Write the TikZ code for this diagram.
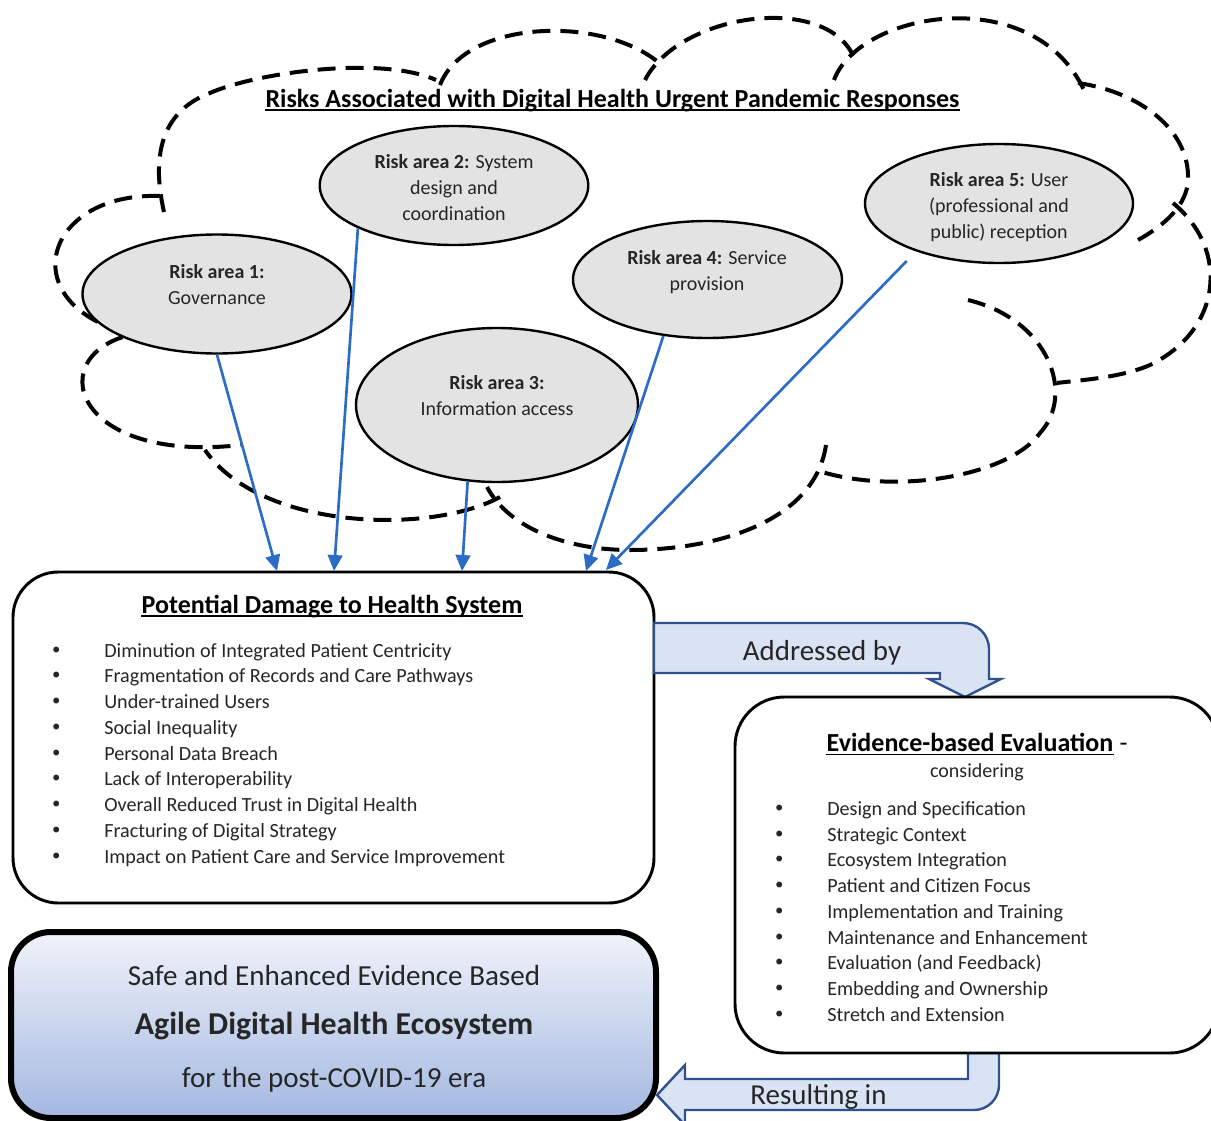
\documentclass[tikz,border=0pt]{standalone}
\usepackage{fontspec}
\setmainfont{Carlito}
\newfontfamily\bulletfont{DejaVu Sans}
\usepackage{tikz}
\usetikzlibrary{arrows.meta,shapes.geometric}

\definecolor{riskgray}{RGB}{227,227,227}
\definecolor{arrowblue}{RGB}{45,108,196}
\definecolor{blockfill}{RGB}{218,227,243}
\definecolor{blockline}{RGB}{47,82,143}
\definecolor{ecotop}{RGB}{240,243,250}
\definecolor{ecobottom}{RGB}{164,184,225}
\definecolor{bodytext}{RGB}{38,38,38}

\newcommand{\dotitem}{\makebox[40.5pt][l]{\bulletfont\symbol{"2022}}}

\begin{document}
\begin{tikzpicture}[x=0.75pt,y=0.75pt,yscale=-1,xscale=1,
  cloudline/.style={line width=3pt, dash pattern=on 13.5pt off 7.5pt},
  riskarea/.style={ellipse, draw, line width=1.8pt, fill=riskgray, inner sep=0pt},
  risktext/.style={align=center, inner sep=0pt, text=bodytext, font=\fontsize{15}{19.5}\selectfont},
  riskarrow/.style={draw=arrowblue, line width=2pt, -{Triangle[length=12pt,width=11pt]}},
  roundbox/.style={draw, line width=2.2pt, fill=white, inner sep=0pt},
  boxtitle/.style={inner sep=0pt, anchor=base, font=\fontsize{19.5}{23}\selectfont\bfseries},
  titlerule/.style={line width=1.1pt},
  bulletlist/.style={align=left, inner sep=0pt, anchor=west, text=bodytext, font=\fontsize{15.1}{19.3}\selectfont},
  blockarrow/.style={draw=blockline, fill=blockfill, line width=1.8pt, line join=miter},
  blocktext/.style={inner sep=0pt, anchor=base, text=bodytext, font=\fontsize{21.7}{25}\selectfont},
  ecotext/.style={inner sep=0pt, anchor=base, text=bodytext, font=\fontsize{21.8}{26}\selectfont}]
\useasboundingbox (0,0) rectangle (1211,1121);
\clip (0,0) rectangle (1211,1121);

%Curve Lines (cloud, top left)
\draw[cloudline] (164,212) .. controls (150,150) and (165,110) .. (210,93) .. controls (255,73) and (380,55) .. (436,80) ;
%Curve Lines
\draw[cloudline] (440,85) .. controls (465,20) and (600,15) .. (658,62) ;
%Curve Lines
\draw[cloudline] (645,80) .. controls (680,12) and (830,-8) .. (855,60) ;
%Curve Lines
\draw[cloudline] (834,80) .. controls (860,10) and (1040,-20) .. (1087,97) ;
%Curve Lines
\draw[cloudline] (1078,83) .. controls (1140,92) and (1190,130) .. (1188,180) .. controls (1187,205) and (1165,225) .. (1138,240) ;
%Curve Lines
\draw[cloudline] (1173,203) .. controls (1230,250) and (1222,330) .. (1150,365) .. controls (1120,378) and (1080,380) .. (1057,383) ;
%Curve Lines
\draw[cloudline] (968,300) .. controls (1050,320) and (1075,395) .. (1040,433) .. controls (1010,475) and (900,495) .. (822,472) ;
%Curve Lines
\draw[cloudline] (826,445) .. controls (815,520) and (720,550) .. (630,550) .. controls (570,550) and (510,530) .. (487,487) ;
%Curve Lines
\draw[cloudline] (500,497) .. controls (430,535) and (260,530) .. (205,450) ;
%Curve Lines
\draw[cloudline] (150,332) .. controls (40,340) and (60,465) .. (241,445) ;
%Curve Lines
\draw[cloudline] (160,196) .. controls (40,192) and (10,310) .. (140,336) ;

% Text Node
\node[boxtitle] (risktitle) at (612.5,107.3) {Risks Associated with Digital Health Urgent Pandemic Responses};
\draw[titlerule] ([yshift=2pt]risktitle.base west) -- ([yshift=2pt]risktitle.base east);

%Shape: Ellipse
\node[riskarea, minimum width=201.75pt, minimum height=89.25pt] (e1) at (217,294) {};
\node[riskarea, minimum width=201.4pt, minimum height=89.25pt] (e2) at (454,185.5) {};
\node[riskarea, minimum width=211.5pt, minimum height=115.5pt] (e3) at (497,405) {};
\node[riskarea, minimum width=201.75pt, minimum height=87.75pt] (e4) at (707.5,279.5) {};
\node[riskarea, minimum width=201pt, minimum height=89.25pt] (e5) at (999,203.5) {};

% Text Node
\node[risktext] (e1text) at (217,284.7) {\textbf{Risk area 1:}\\Governance};
\node[risktext] (e2text) at (454,187.9) {\textbf{Risk area 2:} System\\design and\\coordination};
\node[risktext] (e3text) at (497,395.3) {\textbf{Risk area 3:}\\Information access};
\node[risktext] (e4text) at (707,272) {\textbf{Risk area 4:} Service\\provision};
\node[risktext] (e5text) at (999,207.1) {\textbf{Risk area 5:} User\\(professional and\\public) reception};

%Rounded Rect
\node[roundbox, rounded corners=34pt, minimum width=480.75pt, minimum height=248.25pt] (dmg) at (333.5,737.5) {};

% Text Node
\node[boxtitle] (dmgtitle) at (332,613.3) {Potential Damage to Health System};
\draw[titlerule] ([yshift=2pt]dmgtitle.base west) -- ([yshift=2pt]dmgtitle.base east);
\node[bulletlist] (dmglist) at (50,754.7) {\dotitem Diminution of Integrated Patient Centricity\\
\dotitem Fragmentation of Records and Care Pathways\\
\dotitem Under-trained Users\\
\dotitem Social Inequality\\
\dotitem Personal Data Breach\\
\dotitem Lack of Interoperability\\
\dotitem Overall Reduced Trust in Digital Health\\
\dotitem Fracturing of Digital Strategy\\
\dotitem Impact on Patient Care and Service Improvement};

%Straight Lines
\coordinate (in1) at (277,571);
\coordinate (in2) at (334,571);
\coordinate (in3) at (462,571);
\coordinate (in4) at (586,571);
\coordinate (in5) at (606,570);
\draw[riskarrow] (e1.south) -- (in1);
\draw[riskarrow] (e2.204) -- (in2);
\draw[riskarrow] (e3.249) -- (in3);
\draw[riskarrow] (e4.232) -- (in4);
\draw[riskarrow, shorten <=10pt] (e5.210) -- (in5);

%Shape: Bent Arrow
\draw[blockarrow] (654,623) -- (963,623) .. controls (977.4,623) and (989,634.6) .. (989,649) -- (989,679) -- (1001,679) -- (965,697) -- (929,679) -- (940,679) -- (940,673) -- (654,673) -- cycle ;
\node[blocktext] (addressed) at (822,660.3) {Addressed by};

%Shape: Bent Arrow
\draw[blockarrow] (968,1053) -- (968,1079) -- (685,1079) -- (685,1065) -- (657,1095) -- (685,1125) -- (685,1110) -- (974,1110) .. controls (987.8,1110) and (999,1098.8) .. (999,1085) -- (999,1053) -- cycle ;
\node[blocktext] (resulting) at (818.5,1104.7) {Resulting in};

%Rounded Rect
\node[roundbox, rounded corners=37pt, minimum width=363pt, minimum height=267pt] (evid) at (977,875) {};

% Text Node
\node[boxtitle] (evidtitle) at (970,751.7) {Evidence-based Evaluation};
\draw[titlerule] ([yshift=2pt]evidtitle.base west) -- ([yshift=2pt]evidtitle.base east);
\node[boxtitle, anchor=base west, font=\fontsize{19.5}{23}\selectfont] (evidtitledash) at (evidtitle.base east) {\ -};
\node[risktext, anchor=base] (considering) at (977,777) {considering};
\node[bulletlist] (evidlist) at (773,911.5) {\dotitem Design and Specification\\
\dotitem Strategic Context\\
\dotitem Ecosystem Integration\\
\dotitem Patient and Citizen Focus\\
\dotitem Implementation and Training\\
\dotitem Maintenance and Enhancement\\
\dotitem Evaluation (and Feedback)\\
\dotitem Embedding and Ownership\\
\dotitem Stretch and Extension};

%Rounded Rect
\node[roundbox, line width=4.5pt, rounded corners=30pt, top color=ecotop, bottom color=ecobottom, minimum width=483.75pt, minimum height=139.5pt] (eco) at (333.5,1025) {};

% Text Node
\node[ecotext] (ecoline1) at (334,985.7) {Safe and Enhanced Evidence Based};
\node[ecotext, font=\fontsize{23.9}{28}\selectfont\bfseries] (ecoline2) at (334,1034) {Agile Digital Health Ecosystem};
\node[ecotext] (ecoline3) at (334,1087) {for the post-COVID-19 era};

\end{tikzpicture}
\end{document}
